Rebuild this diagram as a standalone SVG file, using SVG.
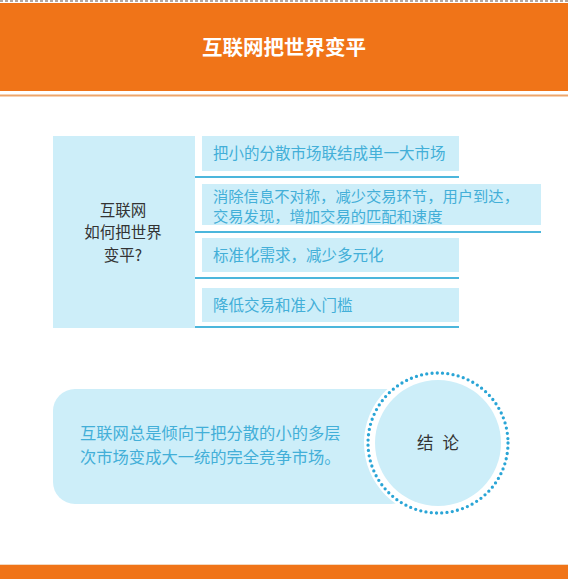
<svg xmlns="http://www.w3.org/2000/svg" width="568" height="579" viewBox="0 0 568 579">
<style>
.cjk{font-family:"Noto Sans CJK SC","Liberation Sans",sans-serif;}
.item{fill:#cdeef9;}
.line{stroke:#4cb6dc;stroke-width:2;fill:none;}
.bt{fill:#43afd8;font-size:15.5px;}
.dk{fill:#333333;font-size:15.5px;}
</style>
<rect x="0" y="0" width="568" height="579" fill="#ffffff"/>
<g id="header">
<line x1="0" y1="1" x2="568" y2="1" stroke="#9a8a80" stroke-width="1.5" stroke-dasharray="3 2"/>
<rect x="0" y="3" width="568" height="88" fill="#f07418"/>
<rect x="0" y="94.5" width="568" height="2" fill="#eda56a"/>
<text class="cjk" x="284" y="55" text-anchor="middle" font-size="20.5" font-weight="bold" fill="#ffffff">互联网把世界变平</text>
</g>
<g id="question">
<rect class="item" x="53" y="136" width="142" height="192"/>
<text class="cjk dk" x="123" y="215.5" text-anchor="middle">互联网</text>
<text class="cjk dk" x="123" y="238" text-anchor="middle">如何把世界</text>
<text class="cjk dk" x="123" y="261" text-anchor="middle">变平?</text>
</g>
<g id="connectors">
<line class="line" x1="195" y1="177" x2="459" y2="177"/>
<line class="line" x1="195" y1="232" x2="541" y2="232"/>
<line class="line" x1="195" y1="278" x2="459" y2="278"/>
<line class="line" x1="195" y1="327" x2="459" y2="327"/>
</g>
<g id="item1">
<rect class="item" x="202" y="136" width="257" height="35"/>
<text class="cjk bt" x="213" y="158.5">把小的分散市场联结成单一大市场</text>
</g>
<g id="item2">
<rect class="item" x="202" y="184" width="339" height="41"/>
<text class="cjk bt" x="213" y="202" style="font-size:15.3px">消除信息不对称，减少交易环节，用户到达，</text>
<text class="cjk bt" x="213" y="222" style="font-size:15.3px">交易发现，增加交易的匹配和速度</text>
</g>
<g id="item3">
<rect class="item" x="202" y="238" width="257" height="34"/>
<text class="cjk bt" x="213" y="260.5">标准化需求，减少多元化</text>
</g>
<g id="item4">
<rect class="item" x="202" y="288" width="257" height="34"/>
<text class="cjk bt" x="213" y="310.5">降低交易和准入门槛</text>
</g>
<g id="conclusion-text">
<rect class="item" x="53" y="389" width="360" height="115" rx="22"/>
<circle cx="438" cy="443" r="74" fill="#ffffff"/>
<text class="cjk" x="80" y="439" font-size="16.3" fill="#43afd8">互联网总是倾向于把分散的小的多层</text>
<text class="cjk" x="80" y="463" font-size="16.3" fill="#43afd8">次市场变成大一统的完全竞争市场。</text>
</g>
<g id="conclusion">
<circle cx="438" cy="443" r="63" fill="#cdeef9"/>
<circle cx="438" cy="443" r="70" fill="none" stroke="#2aa5d6" stroke-width="3.3" stroke-linecap="round" stroke-dasharray="0 5.3"/>
<text class="cjk" x="438" y="449" text-anchor="middle" font-size="16.5" fill="#333333" letter-spacing="0">结<tspan dx="9">论</tspan></text>
</g>
<g id="footer">
<rect x="0" y="564" width="568" height="1" fill="#f3d9c0"/>
<rect x="0" y="565" width="568" height="14" fill="#f07418"/>
</g>
</svg>
